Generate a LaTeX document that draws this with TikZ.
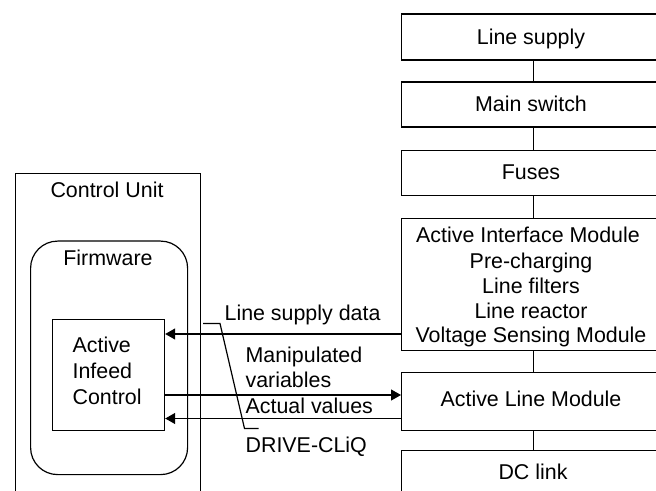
\documentclass[tikz,border=0pt]{standalone}
\usepackage{fontspec}
\setmainfont{Liberation Sans}
\usetikzlibrary{arrows.meta}
\begin{document}
\begin{tikzpicture}[x=1bp,y=-1bp,line width=1.2bp,
  box/.style={draw,rectangle,inner sep=0pt,anchor=north west},
  rbox/.style={box,minimum width=264bp},
  txt/.style={anchor=base,inner sep=0pt,font=\fontsize{21.4bp}{25bp}\selectfont},
  ltxt/.style={txt,anchor=base west},
  arr/.style={-{Triangle[length=10bp,width=11bp]}}]
\useasboundingbox (0,0) rectangle (656,491);
\clip (0,0) rectangle (656,491);
% right column
\node[rbox,minimum height=46bp] (ls) at (401,13.5) {};
\node[rbox,minimum height=45bp] (ms) at (401,81.5) {};
\node[rbox,minimum height=45bp] (fu) at (401,150) {};
\node[rbox,minimum height=132bp] (aim) at (401,218) {};
\node[rbox,minimum height=58.5bp] (alm) at (401,371.5) {};
\node[rbox,minimum height=60bp] (dc) at (401,450) {};
\draw (ls.south) -- (ms.north);
\draw (ms.south) -- (fu.north);
\draw (fu.south) -- (aim.north);
\draw (aim.south) -- (alm.north);
\draw (alm.south) -- (dc.north);
\node[txt] (tls) at (531,45) {Line supply};
\node[txt] (tms) at (531,112) {Main switch};
\node[txt] (tfu) at (531,180) {Fuses};
\node[txt] (ta1) at (528,243) {Active Interface Module};
\node[txt] (ta2) at (531,268) {Pre-charging};
\node[txt] (ta3) at (531,293) {Line filters};
\node[txt] (ta4) at (531,318) {Line reactor};
\node[txt] (ta5) at (531,342) {Voltage Sensing Module};
\node[txt] (talm) at (531,406) {Active Line Module};
\node[txt] (tdc) at (533,479) {DC link};
% left side
\node[box,minimum width=185bp,minimum height=340bp] (cu) at (15,173) {};
\node[box,rounded corners=27bp,minimum width=157bp,minimum height=233.5bp] (fw) at (30,240.5) {};
\node[box,minimum width=112.5bp,minimum height=111bp] (aic) at (51.5,319) {};
\node[txt] (tcu) at (107,198) {Control Unit};
\node[txt] (tfw) at (108,265) {Firmware};
\node[ltxt] (tc1) at (72,352) {Active};
\node[ltxt] (tc2) at (72,378) {Infeed};
\node[ltxt] (tc3) at (72,404) {Control};
% signals
\coordinate (y1) at (0,334);
\coordinate (y2) at (0,395);
\coordinate (y3) at (0,418.5);
\draw[arr] (aim.west |- y1) -- (aic.east |- y1);
\draw[arr] (aic.east |- y2) -- (alm.west |- y2);
\draw[arr] (alm.west |- y3) -- (aic.east |- y3);
\node[ltxt] (lsd) at (224,320) {Line supply data};
\node[ltxt] (mv1) at (245,362.5) {Manipulated};
\node[ltxt] (mv2) at (245,387.5) {variables};
\node[ltxt] (av) at (245,413.5) {Actual values};
\node[ltxt] (dq) at (245,452) {DRIVE-CLiQ};
\coordinate (p1) at (203,323.5);
\coordinate (p2) at (220,323.5);
\coordinate (p3) at (244.5,428.5);
\coordinate (p4) at (258.5,428.5);
\draw (p1) -- (p2) -- (p3) -- (p4);
\end{tikzpicture}
\end{document}
